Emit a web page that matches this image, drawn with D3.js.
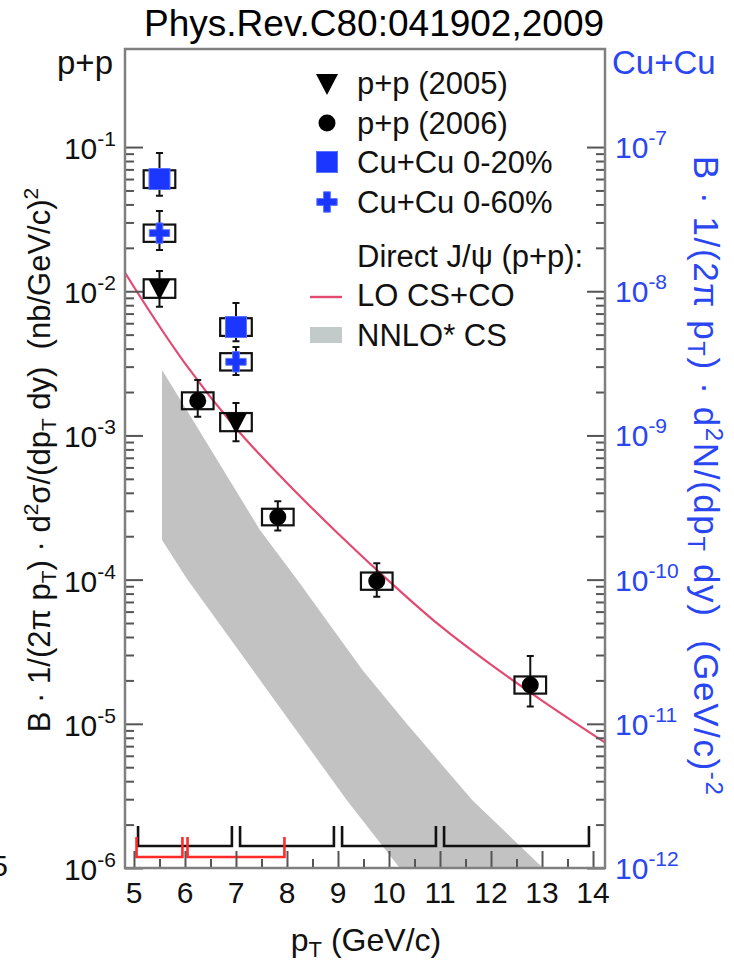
<!DOCTYPE html>
<html>
<head>
<meta charset="utf-8">
<script src="https://cdn.jsdelivr.net/npm/d3@7"></script>
<style>
  html, body { margin: 0; padding: 0; background: #fff; }
  svg text { font-family: "Liberation Sans", Arial, Helvetica, sans-serif; white-space: pre; }
</style>
</head>
<body>
<svg id="chart" width="734" height="964"></svg>
<script>
// ---- data -------------------------------------------------------------
// p+p 2005 (left axis, nb/(GeV/c)^2)
const pp05Pt    = [5.5, 7.0];
const pp05Val   = [0.0105, 0.00124];
const pp05ErrLo = [0.0078, 0.00091];
const pp05ErrHi = [0.0138, 0.00168];
const pp05SysLo = [0.0090, 0.00107];
const pp05SysHi = [0.0121, 0.00143];

// p+p 2006 (left axis)
const pp06Pt    = [6.25, 7.82, 9.76, 12.77];
const pp06Val   = [0.00174, 2.72e-4, 9.77e-5, 1.86e-5];
const pp06ErrLo = [0.00135, 2.19e-4, 7.6e-5, 1.32e-5];
const pp06ErrHi = [0.00242, 3.5e-4, 1.30e-4, 2.95e-5];
const pp06SysLo = [0.00152, 2.38e-4, 8.5e-5, 1.62e-5];
const pp06SysHi = [0.00199, 3.1e-4, 1.12e-4, 2.13e-5];

// Cu+Cu 0-20% (right axis, (GeV/c)^-2)
const cu20Pt    = [5.5, 7.0];
const cu20Val   = [6.0e-8, 5.65e-9];
const cu20ErrLo = [4.6e-8, 4.5e-9];
const cu20ErrHi = [9.1e-8, 8.3e-9];
const cu20SysLo = [5.2e-8, 4.9e-9];
const cu20SysHi = [6.9e-8, 6.5e-9];

// Cu+Cu 0-60% (right axis)
const cu60Pt    = [5.5, 7.0];
const cu60Val   = [2.53e-8, 3.24e-9];
const cu60ErrLo = [1.93e-8, 2.63e-9];
const cu60ErrHi = [3.6e-8, 4.1e-9];
const cu60SysLo = [2.2e-8, 2.82e-9];
const cu60SysHi = [2.9e-8, 3.72e-9];

// LO CS+CO prediction (left axis)
const loPt  = [4.82, 5, 6, 7, 8, 9, 10, 11, 12, 13, 14.24];
const loVal = [1.35e-2, 1.07e-2, 3.16e-3, 1.12e-3, 4.68e-4, 2.09e-4, 9.77e-5, 4.79e-5, 2.57e-5, 1.45e-5, 7.4e-6];

// NNLO* CS band (left axis)
const nnloUpPt  = [5.55, 6.33, 7.47, 8.19, 9.48, 10.34, 11.63, 13.02, 13.5];
const nnloUpVal = [2.84e-3, 1.01e-3, 2.21e-4, 1.01e-4, 2.36e-5, 1.01e-5, 2.96e-6, 1.0e-6, 6.5e-7];
const nnloLoPt  = [5.55, 6.04, 7.33, 9.17, 10.21, 10.6];
const nnloLoVal = [1.88e-4, 1.01e-4, 2.36e-5, 2.96e-6, 1.0e-6, 6.5e-7];

// pT bins
const binsBlack = [[5, 7], [7, 9], [9, 11], [11, 14]];
const binsRed   = [[5, 6], [6, 8]];

// axis ticks
const xTicks       = [5, 6, 7, 8, 9, 10, 11, 12, 13, 14];
const leftDecades  = [-6, -5, -4, -3, -2, -1];
const rightDecades = [-12, -11, -10, -9, -8, -7];
const sysHalfWidth = 0.31; // GeV/c

// ---- layout -----------------------------------------------------------
const svg = d3.select("#chart");
const frame = { left: 125, right: 605, top: 49, bottom: 868 };
const FONT = 30;
const blue = "#2a46f2";
const markBlue = "#1a36ff";

const x = d3.scaleLinear().domain([4.824, 14.235]).range([frame.left, frame.right]);
const yL = d3.scaleLog().domain([1e-6, Math.pow(10, -0.32)]).range([frame.bottom, frame.top]);
const yR = d3.scaleLog().domain([1e-12, Math.pow(10, -6.32)]).range([frame.bottom, frame.top]);

svg.append("defs").append("clipPath").attr("id", "plotclip")
  .append("rect").attr("x", frame.left).attr("y", frame.top)
  .attr("width", frame.right - frame.left).attr("height", frame.bottom - frame.top);

const plot = svg.append("g").attr("clip-path", "url(#plotclip)");

// NNLO* band
const bandPts = nnloUpPt.map((p, i) => [x(p), yL(nnloUpVal[i])])
  .concat(nnloLoPt.map((p, i) => [x(p), yL(nnloLoVal[i])]).reverse());
plot.append("path")
  .attr("d", d3.line().curve(d3.curveLinearClosed)(bandPts))
  .attr("fill", "#c2c2c2");

// LO CS+CO curve
plot.append("path")
  .attr("d", d3.line().x((d, i) => x(loPt[i])).y((d, i) => yL(loVal[i])).curve(d3.curveMonotoneX)(loVal))
  .attr("fill", "none").attr("stroke", "#e24a72").attr("stroke-width", 2.2);

// pT bin brackets
function brackets(bins, yLine, yTop, inset, color) {
  bins.forEach(([a, b]) => {
    const x0 = x(a + inset), x1 = x(b - inset);
    plot.append("path")
      .attr("d", `M${x0},${yTop}V${yLine}H${x1}V${yTop}`)
      .attr("fill", "none").attr("stroke", color).attr("stroke-width", 2.6);
  });
}
brackets(binsBlack, 846, 826, 0.08, "#111");
brackets(binsRed, 857, 837, 0.05, "#ff2a2a");

// ---- axes -------------------------------------------------------------
const tickColor = "#555";
function minorValues(decades) {
  const out = [];
  decades.slice(0, -1).forEach(d => { for (let m = 2; m <= 9; m++) out.push(m * Math.pow(10, d)); });
  return out;
}
function styleAxis(g) {
  g.select(".domain").remove();
  g.selectAll(".tick line").attr("stroke", tickColor).attr("stroke-width", 2);
  g.selectAll(".tick text").remove();
}
// left (ticks inward)
svg.append("g").attr("transform", `translate(${frame.left},0)`)
  .call(d3.axisRight(yL).tickValues(leftDecades.map(d => Math.pow(10, d))).tickSize(18)).call(styleAxis);
svg.append("g").attr("transform", `translate(${frame.left},0)`)
  .call(d3.axisRight(yL).tickValues(minorValues(leftDecades)).tickSize(9)).call(styleAxis);
// right (ticks inward)
svg.append("g").attr("transform", `translate(${frame.right},0)`)
  .call(d3.axisLeft(yR).tickValues(rightDecades.map(d => Math.pow(10, d))).tickSize(18)).call(styleAxis);
svg.append("g").attr("transform", `translate(${frame.right},0)`)
  .call(d3.axisLeft(yR).tickValues(minorValues(rightDecades)).tickSize(9)).call(styleAxis);
// bottom (ticks inward)
svg.append("g").attr("transform", `translate(0,${frame.bottom})`)
  .call(d3.axisTop(x).tickValues(xTicks).tickSize(17)).call(styleAxis);
svg.append("g").attr("transform", `translate(0,${frame.bottom})`)
  .call(d3.axisTop(x).tickValues(xTicks.slice(0, -1).map(v => v + 0.5)).tickSize(9)).call(styleAxis);

// frame
svg.append("rect")
  .attr("x", frame.left).attr("y", frame.top)
  .attr("width", frame.right - frame.left).attr("height", frame.bottom - frame.top)
  .attr("fill", "none").attr("stroke", "#808080").attr("stroke-width", 2.5);

// tick labels
function powerLabel(g, xPos, yPos, exp, anchor, color) {
  const t = g.append("text").attr("x", xPos).attr("y", yPos)
    .attr("text-anchor", anchor).attr("fill", color).attr("font-size", FONT);
  t.append("tspan").text("10");
  t.append("tspan").attr("dy", -13).attr("font-size", 21).text(String(exp));
}
leftDecades.forEach(d => powerLabel(svg, 116, yL(Math.pow(10, d)) + 12, d, "end", "#111"));
rightDecades.forEach(d => powerLabel(svg, 615, yR(Math.pow(10, d)) + 11, d, "start", blue));
xTicks.forEach(v => svg.append("text").attr("x", x(v)).attr("y", 903)
  .attr("text-anchor", "middle").attr("font-size", FONT).attr("fill", "#111").text(v));

// titles
svg.append("text").attr("x", 374).attr("y", 36).attr("text-anchor", "middle")
  .attr("font-size", 37).attr("fill", "#000").text("Phys.Rev.C80:041902,2009");
svg.append("text").attr("x", 113).attr("y", 74).attr("text-anchor", "end")
  .attr("font-size", 33).attr("fill", "#111").text("p+p");
svg.append("text").attr("x", 612).attr("y", 74).attr("text-anchor", "start")
  .attr("font-size", 33).attr("fill", blue).text("Cu+Cu");
svg.append("text").attr("x", 8).attr("y", 876).attr("text-anchor", "end")
  .attr("font-size", FONT).attr("fill", "#111").text("5");

// x axis title
const xt = svg.append("text").attr("x", 366).attr("y", 951).attr("text-anchor", "middle")
  .attr("font-size", 32).attr("fill", "#111");
xt.append("tspan").text("p");
xt.append("tspan").attr("font-size", 22).attr("dy", 6).text("T");
xt.append("tspan").attr("dy", -6).text(" (GeV/c)");

// y axis titles
function axisTitle(tx, ty, rot, color, size, spacing, symbol, unit, unitExp) {
  const sub = Math.round(size * 0.68);
  const t = svg.append("text").attr("transform", `translate(${tx},${ty}) rotate(${rot})`)
    .attr("text-anchor", "middle").attr("font-size", size).attr("fill", color)
    .attr("letter-spacing", spacing);
  t.append("tspan").text("B · 1/(2π p");
  t.append("tspan").attr("font-size", sub).attr("dy", 6).text("T");
  t.append("tspan").attr("dy", -6).text(") · d");
  t.append("tspan").attr("font-size", sub).attr("dy", -12).text("2");
  t.append("tspan").attr("dy", 12).text(symbol + "/(dp");
  t.append("tspan").attr("font-size", sub).attr("dy", 6).text("T");
  t.append("tspan").attr("dy", -6).text(" dy)  " + unit);
  t.append("tspan").attr("font-size", sub).attr("dy", -12).text(unitExp);
}
axisTitle(50, 460, -90, "#111", 31, 0, "σ", "(nb/GeV/c)", "2");
axisTitle(694, 476, 90, blue, 35, 1.6, "N", "(GeV/c)", "-2");

// ---- data points ------------------------------------------------------
const pts = svg.append("g");
function errorBars(pt, lo, hi, y) {
  pt.forEach((p, i) => {
    const cx = x(p);
    pts.append("path")
      .attr("d", `M${cx},${y(hi[i])}V${y(lo[i])}M${cx - 3.5},${y(hi[i])}H${cx + 3.5}M${cx - 3.5},${y(lo[i])}H${cx + 3.5}`)
      .attr("stroke", "#111").attr("stroke-width", 2).attr("fill", "none");
  });
}
function sysBoxes(pt, lo, hi, y) {
  pt.forEach((p, i) => {
    pts.append("rect")
      .attr("x", x(p - sysHalfWidth)).attr("y", y(hi[i]))
      .attr("width", x(p + sysHalfWidth) - x(p - sysHalfWidth))
      .attr("height", y(lo[i]) - y(hi[i]))
      .attr("fill", "none").attr("stroke", "#111").attr("stroke-width", 2.2);
  });
}
const triDown = "M-11,-9L11,-9L0,12Z";
function drawSeries(pt, val, lo, hi, sLo, sHi, y, marker) {
  errorBars(pt, lo, hi, y);
  sysBoxes(pt, sLo, sHi, y);
  pt.forEach((p, i) => marker(pts, x(p), y(val[i])));
}
const markTri = (g, cx, cy) => g.append("path").attr("d", triDown)
  .attr("transform", `translate(${cx},${cy})`).attr("fill", "#000");
const markCircle = (g, cx, cy) => g.append("circle").attr("cx", cx).attr("cy", cy).attr("r", 8.5).attr("fill", "#000");
const markSquare = (g, cx, cy) => g.append("rect").attr("x", cx - 10.5).attr("y", cy - 10.5)
  .attr("width", 21).attr("height", 21).attr("fill", markBlue).attr("stroke", "#5b73ff").attr("stroke-width", 1);
const markCross = (g, cx, cy) => g.append("path").attr("d", d3.symbol().type(d3.symbolCross).size(230)())
  .attr("transform", `translate(${cx},${cy})`).attr("fill", markBlue).attr("stroke", "#5b73ff").attr("stroke-width", 1);

drawSeries(cu20Pt, cu20Val, cu20ErrLo, cu20ErrHi, cu20SysLo, cu20SysHi, yR, markSquare);
drawSeries(cu60Pt, cu60Val, cu60ErrLo, cu60ErrHi, cu60SysLo, cu60SysHi, yR, markCross);
drawSeries(pp05Pt, pp05Val, pp05ErrLo, pp05ErrHi, pp05SysLo, pp05SysHi, yL, markTri);
drawSeries(pp06Pt, pp06Val, pp06ErrLo, pp06ErrHi, pp06SysLo, pp06SysHi, yL, markCircle);

// ---- legend -----------------------------------------------------------
const leg = svg.append("g");
const legX = 327, legTextX = 357;
const legRows = [
  { y: 83,  label: "p+p (2005)",        mark: markTri },
  { y: 123, label: "p+p (2006)",        mark: markCircle },
  { y: 162, label: "Cu+Cu 0-20%",       mark: markSquare },
  { y: 202, label: "Cu+Cu 0-60%",       mark: markCross },
  { y: 256, label: "Direct J/ψ (p+p):", mark: null },
  { y: 295, label: "LO CS+CO",          mark: "line" },
  { y: 335, label: "NNLO* CS",          mark: "box" }
];
legRows.forEach(r => {
  if (typeof r.mark === "function") r.mark(leg, legX, r.y);
  else if (r.mark === "line") leg.append("line").attr("x1", 310).attr("x2", 342).attr("y1", r.y + 2).attr("y2", r.y + 2)
    .attr("stroke", "#e24a72").attr("stroke-width", 2.4);
  else if (r.mark === "box") leg.append("rect").attr("x", 310).attr("y", r.y - 8).attr("width", 32).attr("height", 16)
    .attr("fill", "#c3cbca");
  leg.append("text").attr("x", legTextX).attr("y", r.y + 11).attr("font-size", 31).attr("fill", "#111").text(r.label);
});
</script>
</body>
</html>
